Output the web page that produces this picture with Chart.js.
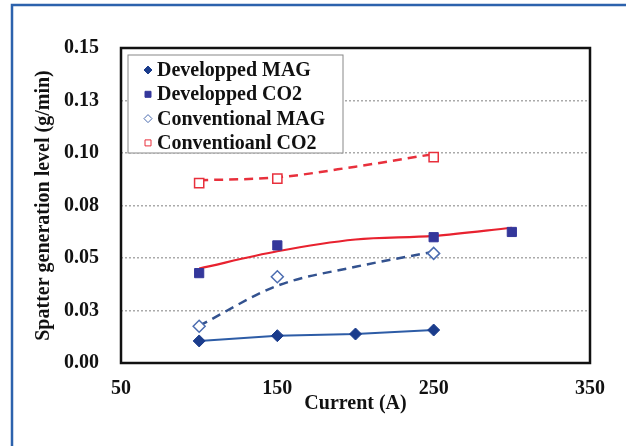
<!DOCTYPE html>
<html lang="en">
    <head>
        <meta charset="UTF-8">
        <title>Spatter generation level</title>
        <style>
            body { margin: 0; background: #fff; }
            .chart-container { position: relative; width: 626px; height: 446px; }
        </style>
    </head>
    <body>
        <div class="chart-container">
            <canvas id="myChart"></canvas>
        </div>
    </body>
    <script src="https://cdn.jsdelivr.net/npm/chart.js@4.4.0/dist/chart.umd.min.js"></script>
    <script>

        // values
        const currents = [100, 150, 200, 250, 300]
        const devMAG = [0.0105, 0.0130, 0.0138, 0.0157, null]
        const devCO2 = [0.0428, 0.0560, null, 0.0599, 0.0624]
        const convMAG = [0.0175, 0.0411, null, 0.0522, null]
        const convCO2 = [0.0857, 0.0878, null, 0.0980, null]

        // smoothed trend curves drawn in the figure
        const devCO2Trend = [0.0450, 0.0532, 0.0588, 0.0605, 0.0644]
        const convMAGTrend = [0.0177, 0.0368, 0.0458, 0.0530, null]
        const convCO2Trend = [0.0870, 0.0884, 0.0935, 0.0995, null]

        const yTickLabels = ['0.00', '0.03', '0.05', '0.08', '0.10', '0.13', '0.15']
        const xTicks = [50, 150, 250, 350]

        const serif = "'Liberation Serif', 'Times New Roman', serif"

        var pts = function(ys) {
            return currents.map((x, i) => ({ x: x, y: ys[i] })).filter(p => p.y !== null)
        }

        // outer frame, plot frame and boxed legend
        var decorPlugin = {
            id: 'decor',
            beforeDraw(chart) {
                const c = chart.ctx
                c.save()
                c.strokeStyle = '#2c62ad'
                c.lineWidth = 2.5
                c.beginPath()
                c.moveTo(12, 446)
                c.lineTo(12, 5)
                c.lineTo(626, 5)
                c.stroke()
                c.restore()
            },
            afterDraw(chart) {
                const a = chart.chartArea
                const c = chart.ctx
                c.save()
                c.strokeStyle = '#111'
                c.lineWidth = 2.5
                c.strokeRect(a.left, a.top, a.right - a.left, a.bottom - a.top)

                const lx = a.left + 7, ly = a.top + 7
                c.fillStyle = '#fff'
                c.fillRect(lx, ly, 215, 98)
                c.strokeStyle = '#888'
                c.lineWidth = 1
                c.strokeRect(lx, ly, 215, 98)
                c.font = 'bold 20px ' + serif
                c.textBaseline = 'middle'
                chart.data.datasets.filter(d => d.inLegend).forEach((d, i) => {
                    const y = ly + 15 + i * 24.3
                    c.fillStyle = d.pointBackgroundColor
                    c.strokeStyle = d.pointBorderColor
                    c.lineWidth = 1
                    c.beginPath()
                    if (d.pointStyle === 'rectRot') {
                        c.moveTo(lx + 20, y - 4); c.lineTo(lx + 24, y); c.lineTo(lx + 20, y + 4); c.lineTo(lx + 16, y)
                    } else {
                        c.rect(lx + 17, y - 3, 6, 6)
                    }
                    c.closePath()
                    c.fill()
                    c.stroke()
                    c.fillStyle = '#111'
                    c.fillText(d.label, lx + 29, y + 1)
                })
                c.restore()
            }
        }

        var chartData = {
            datasets: [{
                label: 'Developped MAG',
                inLegend: true,
                data: pts(devMAG),
                showLine: true,
                borderColor: '#2d5ca6',
                borderWidth: 2,
                pointStyle: 'rectRot',
                pointRadius: 6,
                pointBackgroundColor: '#1b3c8c',
                pointBorderColor: '#1b3c8c',
                pointBorderWidth: 1
            }, {
                label: 'Developped CO2',
                inLegend: true,
                data: pts(devCO2),
                showLine: false,
                pointStyle: 'rect',
                pointRadius: 6.5,
                pointBackgroundColor: '#34379b',
                pointBorderColor: '#34379b',
                pointBorderWidth: 1
            }, {
                label: 'Conventional MAG',
                inLegend: true,
                data: pts(convMAG),
                showLine: false,
                pointStyle: 'rectRot',
                pointRadius: 6,
                pointBackgroundColor: '#ffffff',
                pointBorderColor: '#4b6cb0',
                pointBorderWidth: 1.5
            }, {
                label: 'Conventioanl CO2',
                inLegend: true,
                data: pts(convCO2),
                showLine: false,
                pointStyle: 'rect',
                pointRadius: 6.5,
                pointBackgroundColor: '#ffffff',
                pointBorderColor: '#e8303c',
                pointBorderWidth: 1.5
            }, {
                label: 'Developped CO2 trend',
                data: pts(devCO2Trend),
                showLine: true,
                cubicInterpolationMode: 'monotone',
                borderColor: '#e8222f',
                borderWidth: 2.2,
                pointRadius: 0
            }, {
                label: 'Conventional MAG trend',
                data: pts(convMAGTrend),
                showLine: true,
                cubicInterpolationMode: 'monotone',
                borderColor: '#33528f',
                borderWidth: 2.5,
                borderDash: [9, 6],
                pointRadius: 0
            }, {
                label: 'Conventional CO2 trend',
                data: pts(convCO2Trend),
                showLine: true,
                cubicInterpolationMode: 'monotone',
                borderColor: '#e8303c',
                borderWidth: 2.5,
                borderDash: [9, 6],
                pointRadius: 0
            }]
        }

        var chartOptions = {
            responsive: true,
            maintainAspectRatio: false,
            animation: false,
            layout: { padding: { left: 0, top: 48, right: 36, bottom: 30 } },
            plugins: {
                legend: { display: false },
                tooltip: { enabled: false }
            },
            scales: {
                x: {
                    type: 'linear',
                    min: 50,
                    max: 350,
                    afterBuildTicks: (s) => { s.ticks = xTicks.map(v => ({ value: v })) },
                    afterFit: (s) => { s.height = 53 },
                    grid: { display: false, drawTicks: false },
                    border: { display: false },
                    ticks: {
                        padding: 14,
                        color: '#111',
                        font: { family: serif, size: 20, weight: 'bold' }
                    },
                    title: {
                        display: true,
                        text: 'Current (A)',
                        color: '#111',
                        padding: { top: 0, bottom: 0 },
                        font: { family: serif, size: 20, weight: 'bold' }
                    }
                },
                y: {
                    min: 0,
                    max: 0.15,
                    afterFit: (s) => { s.width = 121 },
                    grid: { color: '#aaa', lineWidth: 1.5, drawTicks: false },
                    border: { display: false, dash: [2, 2] },
                    ticks: {
                        stepSize: 0.025,
                        padding: 22,
                        color: '#111',
                        font: { family: serif, size: 20, weight: 'bold' },
                        callback: (v) => yTickLabels[Math.round(v / 0.025)]
                    },
                    title: {
                        display: true,
                        text: 'Spatter generation level (g/min)',
                        color: '#111',
                        padding: { top: 32, bottom: 0 },
                        font: { family: serif, size: 20, weight: 'bold' }
                    }
                }
            }
        }

        const ctx = document.getElementById('myChart')

        var spatterChart = new Chart(ctx, {
            type: 'scatter',
            data: chartData,
            options: chartOptions,
            plugins: [decorPlugin]
        })
    </script>
</html>
